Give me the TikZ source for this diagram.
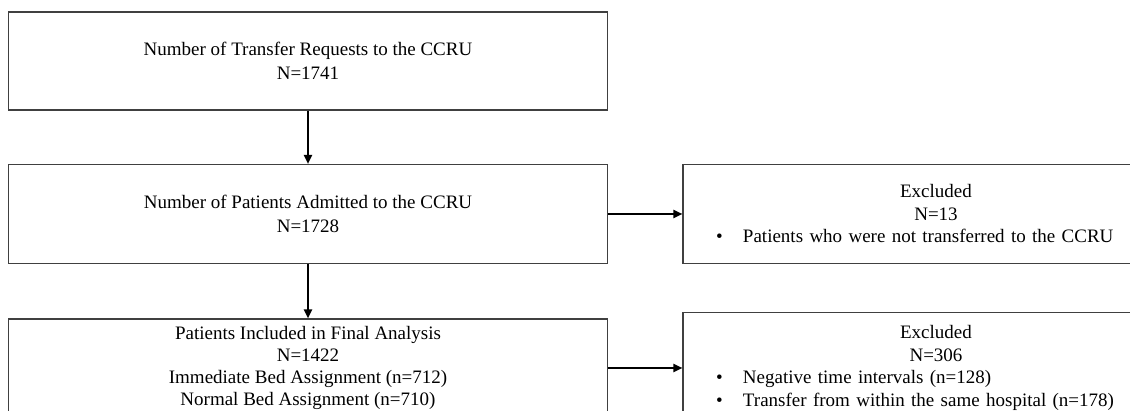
\documentclass[tikz,border=0pt]{standalone}
\usepackage{fontspec}
\setmainfont{Liberation Serif}
\usetikzlibrary{arrows.meta}
\newlength{\exwd}
\setlength{\exwd}{480pt}
\newcommand{\bulletline}[1]{\makebox[\exwd][l]{\hspace*{20pt}\makebox[27pt][l]{\textbullet}#1}}
\tikzset{
  flowbox/.style = {rectangle, draw=black!75, line width=1.1pt, fill=white,
                    minimum width=599pt, align=center, inner sep=0pt,
                    font=\fontsize{19}{24.5}\selectfont},
  exbox/.style   = {rectangle, draw=black!75, line width=1.1pt, fill=white,
                    text width=\exwd, inner sep=13pt, minimum height=99pt,
                    align=center, font=\fontsize{19}{22.5}\selectfont},
  arrow/.style   = {line width=2pt, -{Triangle[length=9pt,width=8pt]}},
}
\begin{document}
\begin{tikzpicture}[x=1pt, y=-1pt]

    \clip (0,0) rectangle (1130,411);

    %% main flow
    \node[flowbox, minimum height=98pt] (req) at (308, 61)
         {Number of Transfer Requests to the CCRU\\N=1741};
    \node[flowbox, minimum height=99pt] (adm) at (308, 214)
         {Number of Patients Admitted to the CCRU\\N=1728};
    \node[flowbox, minimum height=98pt, font=\fontsize{19}{22}\selectfont] (incl) at (308, 368)
         {Patients Included in Final Analysis\\N=1422\\Immediate Bed Assignment (n=712)\\Normal Bed Assignment (n=710)};

    %% exclusions
    \node[exbox] (excl1) at (936, 214)
         {Excluded\\N=13\\\bulletline{Patients who were not transferred to the CCRU}};
    \node[exbox] (excl2) at (936, 368)
         {Excluded\\N=306\\\bulletline{Negative time intervals (n=128)}\\\bulletline{Transfer from within the same hospital (n=178)}};

    \draw[arrow] (req)  -- (adm);
    \draw[arrow] (adm)  -- (incl);
    \draw[arrow] (adm)  -- (excl1);
    \draw[arrow] (incl) -- (excl2);

\end{tikzpicture}
\end{document}
